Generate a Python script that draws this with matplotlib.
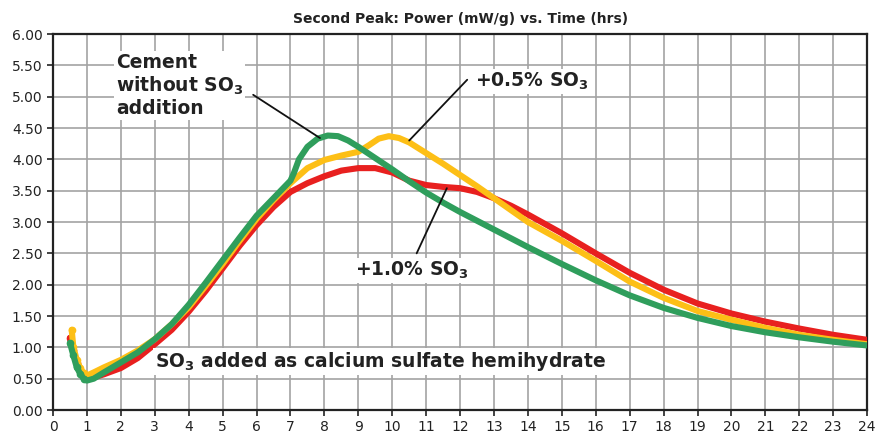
import matplotlib.pyplot as plt
import numpy as np

# Time (hrs) and power (mW/g)
t_none = [0.5, 0.6, 0.7, 0.8, 0.9, 1.0, 1.2, 1.5, 2, 2.5, 3, 3.5, 4, 4.5, 5, 5.5, 6, 6.5, 7,
          7.1, 7.25, 7.5, 7.8, 8.1, 8.4, 8.7, 9, 9.5, 10, 10.5, 11, 11.5, 12, 13, 14, 15, 16,
          17, 18, 19, 20, 21, 22, 23, 24]
p_none = [1.07, 0.87, 0.68, 0.58, 0.5, 0.47, 0.5, 0.6, 0.76, 0.92, 1.13, 1.37, 1.68, 2.03, 2.39,
          2.75, 3.1, 3.38, 3.66, 3.78, 4.0, 4.2, 4.33, 4.38, 4.37, 4.3, 4.2, 4.02, 3.84, 3.65,
          3.47, 3.31, 3.16, 2.88, 2.6, 2.33, 2.07, 1.83, 1.63, 1.47, 1.34, 1.24, 1.16, 1.09, 1.03]

t_05 = [0.55, 0.6, 0.7, 0.8, 0.9, 1.0, 1.2, 1.5, 2, 2.5, 3, 3.5, 4, 4.5, 5, 5.5, 6, 6.5, 7,
        7.5, 8, 8.5, 9, 9.3, 9.6, 9.9, 10.2, 10.5, 11, 11.5, 12, 12.5, 13, 13.5, 14, 15, 16,
        17, 18, 19, 20, 21, 22, 23, 24]
p_05 = [1.28, 1.0, 0.8, 0.67, 0.59, 0.55, 0.6, 0.68, 0.8, 0.95, 1.13, 1.37, 1.64, 1.98, 2.33,
        2.7, 3.05, 3.35, 3.62, 3.86, 3.99, 4.06, 4.12, 4.22, 4.33, 4.37, 4.34, 4.27, 4.1, 3.93,
        3.75, 3.57, 3.38, 3.19, 3.0, 2.7, 2.38, 2.05, 1.79, 1.58, 1.44, 1.31, 1.2, 1.12, 1.05]

t_10 = [0.5, 0.6, 0.7, 0.8, 0.9, 1.0, 1.2, 1.5, 2, 2.5, 3, 3.5, 4, 4.5, 5, 5.5, 6, 6.5, 7,
        7.5, 8, 8.5, 9, 9.5, 10, 10.5, 11, 11.5, 12, 12.5, 13, 13.5, 14, 15, 16, 17, 18, 19,
        20, 21, 22, 23, 24]
p_10 = [1.15, 0.95, 0.75, 0.63, 0.55, 0.5, 0.52, 0.57, 0.67, 0.83, 1.05, 1.28, 1.57, 1.9, 2.26,
        2.62, 2.95, 3.24, 3.48, 3.62, 3.73, 3.82, 3.86, 3.86, 3.79, 3.66, 3.59, 3.56, 3.54,
        3.48, 3.38, 3.26, 3.12, 2.82, 2.5, 2.19, 1.92, 1.7, 1.54, 1.41, 1.3, 1.2, 1.12]

GREEN = '#2f9e5c'
YELLOW = '#fdbf16'
RED = '#e8201f'

fig = plt.figure(figsize=(8.75, 4.36), dpi=100)
ax = fig.add_axes([0.0606, 0.0596, 0.9304, 0.8624])

for t, p, c in [(t_10, p_10, RED), (t_05, p_05, YELLOW), (t_none, p_none, GREEN)]:
    ax.plot(t, p, color=c, lw=4.4, solid_capstyle='round', zorder=3)
    ax.plot(t[:5], p[:5], 'o', color=c, ms=4.5, zorder=3)

ax.set_xlim(0, 24)
ax.set_ylim(0, 6)
ax.set_xticks(np.arange(0, 25, 1))
ax.set_yticks(np.arange(0, 6.01, 0.5))
ax.set_yticklabels([f'{v:.2f}' for v in np.arange(0, 6.01, 0.5)])
ax.grid(True, color='#a3a3a3', lw=1.2, zorder=0)
ax.set_axisbelow(True)
for s in ax.spines.values():
    s.set_color('#222222')
    s.set_linewidth(1.6)
ax.tick_params(axis='both', labelsize=10, colors='#222222', length=4, width=1.2)

ax.set_title('Second Peak: Power (mW/g) vs. Time (hrs)', fontsize=10,
             fontweight='bold', color='#222222', pad=8)

so3 = r'SO$_\mathbf{3}$'
box = dict(facecolor='white', edgecolor='none', pad=1.5)
kw = dict(fontsize=13.5, fontweight='bold', color='#222222', bbox=box, zorder=5)
line = dict(arrowstyle='-', color='#111111', lw=1.3, shrinkA=0, shrinkB=0)

ax.text(1.85, 5.7, 'Cement\nwithout ' + so3 + '\naddition', ha='left', va='top',
        linespacing=1.15, **kw)
ax.annotate('', xy=(7.87, 4.34), xytext=(5.9, 5.03), arrowprops=line, zorder=4)

ax.text(12.44, 5.24, '+0.5% ' + so3, ha='left', va='center', **kw)
ax.annotate('', xy=(10.5, 4.3), xytext=(12.21, 5.27), arrowprops=line, zorder=4)

ax.text(8.9, 2.23, '+1.0% ' + so3, ha='left', va='center', **kw)
ax.annotate('', xy=(11.61, 3.54), xytext=(10.72, 2.5), arrowprops=line, zorder=4)

ax.text(3.0, 0.77, so3 + ' added as calcium sulfate hemihydrate', ha='left', va='center', **kw)

fig.savefig('out.png', dpi=100)
